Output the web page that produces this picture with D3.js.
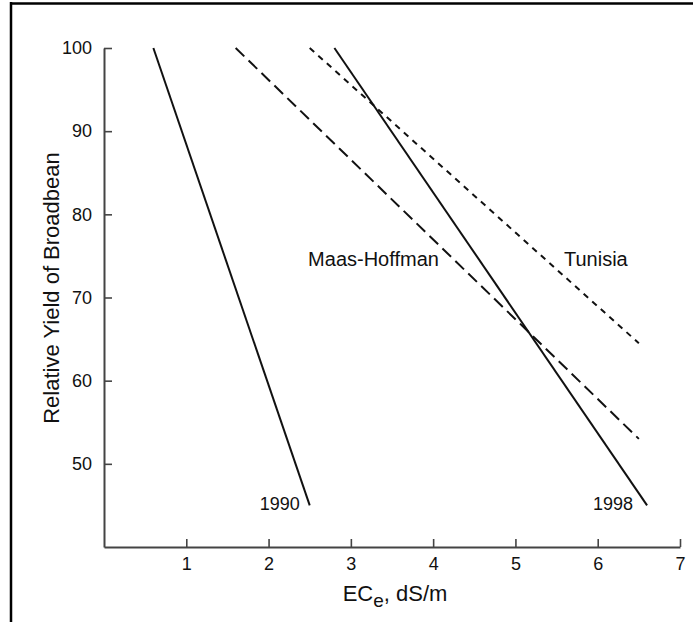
<!DOCTYPE html>
<html>
<head>
<meta charset="utf-8">
<script src="https://cdn.jsdelivr.net/npm/d3@7"></script>
<style>
  body { margin: 0; background: #fff; }
  text { font-family: "Liberation Sans", Arial, Helvetica, sans-serif; fill: #111; }
</style>
</head>
<body>
<script>
const width = 693, height = 622;

// salinity (ECe, dS/m) and relative yield for each line
const ec1990 = [0.6, 2.5],   yield1990 = [100, 45];
const ecMaas = [1.6, 6.5],   yieldMaas = [100, 53];
const ecTunisia = [2.5, 6.5], yieldTunisia = [100, 64.5];
const ec1998 = [2.8, 6.6],   yield1998 = [100, 45];

const xTicks = [1, 2, 3, 4, 5, 6, 7];
const yTicks = [50, 60, 70, 80, 90, 100];

const x = d3.scaleLinear().domain([0, 7]).range([104, 680]);
const y = d3.scaleLinear().domain([40, 100]).range([547, 48]);

const svg = d3.select('body').append('svg').attr('width', width).attr('height', height);

// frame remnants (top + left rule of the scanned page)
svg.append('line').attr('x1', 10).attr('x2', width).attr('y1', 3.5).attr('y2', 3.5)
  .attr('stroke', '#000').attr('stroke-width', 2.5);
svg.append('line').attr('x1', 11).attr('x2', 11).attr('y1', 2).attr('y2', height)
  .attr('stroke', '#000').attr('stroke-width', 2.5);

const xAxis = svg.append('g').attr('transform', `translate(0,${y(40)})`)
  .call(d3.axisBottom(x).tickValues(xTicks).tickFormat(d3.format('d'))
    .tickSizeInner(-8).tickSizeOuter(0).tickPadding(10));
const yAxis = svg.append('g').attr('transform', `translate(${x(0)},0)`)
  .call(d3.axisLeft(y).tickValues(yTicks).tickFormat(d3.format('d'))
    .tickSizeInner(-8).tickSizeOuter(0).tickPadding(12));

[xAxis, yAxis].forEach(g => {
  g.select('.domain').attr('stroke', '#444').attr('stroke-width', 2);
  g.selectAll('.tick line').attr('stroke', '#444').attr('stroke-width', 1.6);
  g.selectAll('.tick text').attr('font-size', 18).attr('fill', '#111')
    .style('font-family', '"Liberation Sans", Arial, sans-serif');
});

const series = [
  { name: '1990', ec: ec1990, yv: yield1990, dash: null },
  { name: 'Maas-Hoffman', ec: ecMaas, yv: yieldMaas, dash: '12,6' },
  { name: 'Tunisia', ec: ecTunisia, yv: yieldTunisia, dash: '6,5.5' },
  { name: '1998', ec: ec1998, yv: yield1998, dash: null }
];

const line = d3.line().x(d => x(d[0])).y(d => y(d[1]));

svg.append('g').selectAll('path').data(series).enter().append('path')
  .attr('d', s => line(d3.zip(s.ec, s.yv)))
  .attr('fill', 'none').attr('stroke', '#111').attr('stroke-width', 2)
  .attr('stroke-dasharray', s => s.dash);

// line labels
const labels = [
  { text: '1990', ec: 2.38, yv: 44.5, size: 18, anchor: 'end' },
  { text: '1998', ec: 6.43, yv: 44.5, size: 18, anchor: 'end' },
  { text: 'Maas-Hoffman', ec: 4.07, yv: 73.8, size: 20, anchor: 'end' },
  { text: 'Tunisia', ec: 5.59, yv: 73.8, size: 20, anchor: 'start' }
];
svg.append('g').selectAll('text').data(labels).enter().append('text')
  .attr('x', d => x(d.ec)).attr('y', d => y(d.yv))
  .attr('text-anchor', d => d.anchor).attr('font-size', d => d.size)
  .text(d => d.text);

// axis titles
const xt = svg.append('text').attr('x', 395).attr('y', 601)
  .attr('text-anchor', 'middle').attr('font-size', 22);
xt.append('tspan').text('EC');
xt.append('tspan').attr('font-size', 19).attr('dy', 6).text('e');
xt.append('tspan').attr('dy', -6).text(', dS/m');

svg.append('text').attr('transform', 'translate(59,288) rotate(-90)')
  .attr('text-anchor', 'middle').attr('font-size', 22)
  .text('Relative Yield of Broadbean');
</script>
</body>
</html>
